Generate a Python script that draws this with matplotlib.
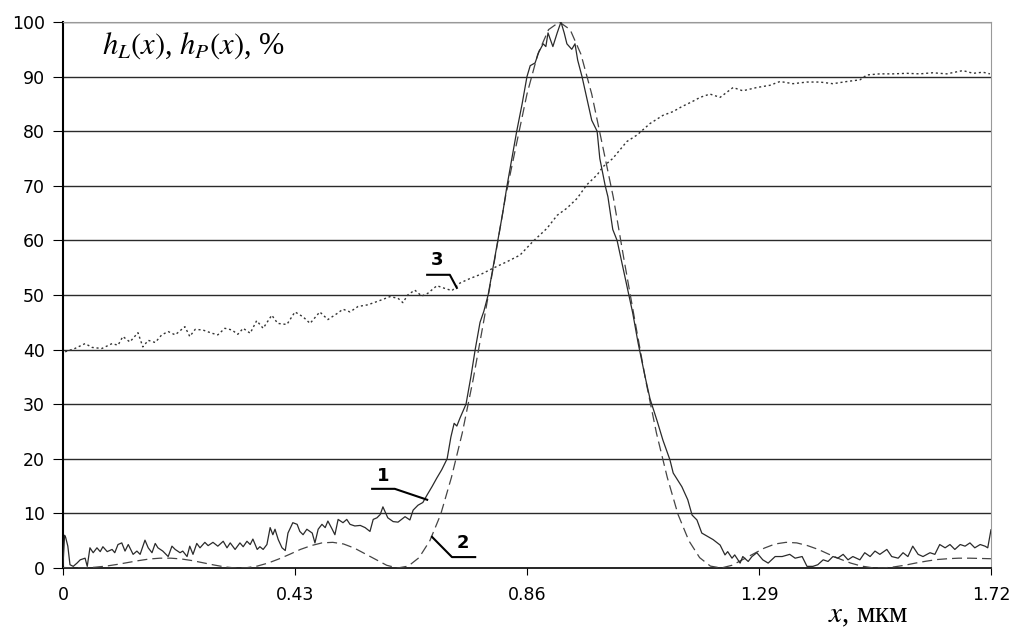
import numpy as np
import matplotlib
matplotlib.use('Agg')
import matplotlib.pyplot as plt

plt.rcParams['mathtext.fontset'] = 'stix'

# --- curve 2: smooth dashed profile, sampled every 0.02 um ---
x2 = np.round(np.arange(0, 1.7201, 0.02), 2)
y2 = [0.1, 0.0, 0.0, 0.15, 0.35, 0.65, 1.0, 1.35, 1.65, 1.8,
      1.8, 1.65, 1.35, 0.95, 0.55, 0.2, 0.0, 0.05, 0.35, 0.9,
      1.65, 2.5, 3.4, 4.1, 4.6, 4.7, 4.4, 3.65, 2.6, 1.55,
      0.5, 0.0, 0.35, 1.9, 5.0, 9.8, 16.6, 24.7, 34.4, 45.3,
      56.4, 67.9, 77.4, 86.8, 94.1, 98.6, 100, 98.6, 94.1, 86.8,
      77.4, 67.9, 56.4, 45.3, 34.4, 24.7, 16.6, 9.8, 5.0, 1.9,
      0.35, 0.0, 0.5, 1.55, 2.6, 3.65, 4.4, 4.7, 4.6, 4.1,
      3.4, 2.5, 1.65, 0.9, 0.35, 0.05, 0.0, 0.2, 0.5, 0.9,
      1.25, 1.55, 1.7, 1.8, 1.8, 1.75, 1.7]

# --- curve 1: measured (solid, noisy) ---
x1 = [0.000, 0.003, 0.005, 0.009, 0.013, 0.019, 0.026, 0.032, 0.041, 0.045,
      0.050, 0.056, 0.063, 0.069, 0.074, 0.082, 0.091, 0.096, 0.102, 0.109,
      0.115, 0.121, 0.130, 0.137, 0.143, 0.152, 0.158, 0.165, 0.171, 0.176,
      0.185, 0.195, 0.202, 0.208, 0.217, 0.222, 0.230, 0.235, 0.241, 0.248,
      0.254, 0.263, 0.269, 0.278, 0.287, 0.297, 0.304, 0.310, 0.319, 0.328,
      0.334, 0.341, 0.347, 0.352, 0.360, 0.365, 0.371, 0.378, 0.384, 0.389,
      0.393, 0.399, 0.406, 0.412, 0.417, 0.426, 0.434, 0.439, 0.445, 0.452,
      0.462, 0.467, 0.473, 0.480, 0.486, 0.491, 0.499, 0.504, 0.510, 0.519,
      0.526, 0.532, 0.541, 0.551, 0.560, 0.569, 0.575, 0.582, 0.588, 0.593,
      0.602, 0.612, 0.621, 0.634, 0.643, 0.649, 0.658, 0.667, 0.675, 0.684,
      0.693, 0.702, 0.712, 0.719, 0.725, 0.730, 0.736, 0.747, 0.756, 0.764,
      0.773, 0.780, 0.788, 0.797, 0.806, 0.815, 0.823, 0.832, 0.841, 0.851,
      0.860, 0.866, 0.875, 0.882, 0.890, 0.895, 0.899, 0.908, 0.916, 0.923,
      0.929, 0.934, 0.943, 0.949, 0.954, 0.962, 0.971, 0.980, 0.990, 0.995,
      1.005, 1.010, 1.019, 1.027, 1.038, 1.047, 1.051, 1.056, 1.066, 1.079,
      1.088, 1.101, 1.112, 1.125, 1.131, 1.147, 1.158, 1.166, 1.175, 1.184,
      1.205, 1.218, 1.227, 1.232, 1.240, 1.245, 1.255, 1.260, 1.270, 1.277,
      1.286, 1.297, 1.307, 1.320, 1.333, 1.347, 1.357, 1.370, 1.379, 1.390,
      1.399, 1.409, 1.418, 1.427, 1.436, 1.446, 1.455, 1.464, 1.477, 1.486,
      1.496, 1.505, 1.514, 1.527, 1.536, 1.548, 1.557, 1.566, 1.575, 1.585,
      1.594, 1.607, 1.616, 1.625, 1.635, 1.644, 1.653, 1.663, 1.672, 1.681,
      1.690, 1.700, 1.709, 1.714, 1.720]
y1 = [0.5, 6.0, 5.6, 4.0, 0.6, 0.3, 0.9, 1.5, 1.8, 0.3,
      3.7, 2.8, 3.7, 3.0, 3.9, 3.0, 3.4, 2.8, 4.3, 4.6,
      3.1, 4.3, 2.5, 3.1, 2.5, 5.1, 3.7, 2.8, 4.5, 3.7,
      3.1, 2.1, 4.0, 3.4, 2.8, 3.1, 2.1, 4.0, 2.5, 4.5,
      3.7, 4.7, 4.1, 4.7, 4.0, 4.9, 3.7, 4.6, 3.4, 4.6,
      3.9, 4.9, 4.3, 5.3, 3.4, 3.9, 3.4, 4.3, 7.4, 6.1,
      7.1, 5.2, 3.7, 3.2, 6.4, 8.3, 8.0, 6.7, 6.1, 7.1,
      6.4, 4.6, 7.1, 8.0, 7.4, 8.6, 7.1, 6.1, 8.9, 8.3,
      8.9, 8.0, 7.7, 7.8, 7.4, 6.7, 8.9, 9.2, 9.8, 11.2,
      9.2, 8.5, 8.4, 9.4, 8.8, 10.6, 11.5, 12.0, 13.4, 14.9,
      16.5, 18.0, 20.0, 24.0, 26.5, 26.0, 27.5, 30.0, 35.0, 40.0,
      45.0, 47.0, 50.0, 55.0, 60.0, 65.0, 70.0, 75.0, 80.0, 85.0,
      90.0, 92.0, 92.5, 94.5, 96.0, 95.5, 98.0, 95.5, 98.0, 100.0,
      98.0, 96.0, 95.0, 96.0, 93.0, 90.0, 86.0, 82.0, 80.0, 75.0,
      70.0, 68.0, 62.0, 60.0, 55.0, 51.0, 49.0, 46.7, 41.2, 35.0,
      31.0, 27.0, 23.4, 19.8, 17.4, 14.9, 12.5, 9.7, 8.8, 6.4,
      5.2, 4.2, 2.4, 3.0, 1.8, 2.4, 0.9, 2.1, 1.2, 2.1,
      2.8, 1.5, 0.9, 2.1, 2.1, 2.5, 1.8, 2.1, 0.3, 0.3,
      0.6, 1.5, 1.2, 2.1, 1.8, 2.5, 1.5, 2.1, 1.5, 2.8,
      2.1, 3.1, 2.5, 3.4, 2.1, 1.8, 2.8, 2.1, 4.0, 2.5,
      2.1, 2.8, 2.5, 4.3, 3.7, 4.3, 3.4, 4.3, 4.0, 4.6,
      3.7, 4.3, 4.0, 3.7, 7.0]

# --- curve 3: dotted, slowly rising ---
x3 = [0.004, 0.022, 0.041, 0.054, 0.072, 0.091, 0.102, 0.111, 0.124, 0.139,
      0.148, 0.158, 0.171, 0.183, 0.195, 0.208, 0.226, 0.235, 0.245, 0.259,
      0.276, 0.287, 0.300, 0.313, 0.324, 0.334, 0.347, 0.359, 0.371, 0.387,
      0.398, 0.415, 0.430, 0.445, 0.458, 0.476, 0.491, 0.508, 0.519, 0.532,
      0.547, 0.565, 0.582, 0.593, 0.606, 0.621, 0.630, 0.639, 0.652, 0.665,
      0.676, 0.693, 0.708, 0.721, 0.736, 0.754, 0.777, 0.797, 0.823, 0.847,
      0.871, 0.897, 0.916, 0.934, 0.953, 0.971, 0.990, 1.001, 1.019, 1.045,
      1.064, 1.088, 1.112, 1.131, 1.147, 1.166, 1.181, 1.199, 1.218, 1.242,
      1.260, 1.286, 1.310, 1.329, 1.353, 1.379, 1.403, 1.427, 1.453, 1.477,
      1.490, 1.514, 1.538, 1.564, 1.588, 1.612, 1.638, 1.668, 1.687, 1.705,
      1.718]
y3 = [39.6, 40.2, 41.1, 40.4, 40.2, 41.1, 40.8, 42.4, 41.4, 43.1,
      40.5, 41.7, 41.3, 42.7, 43.3, 42.7, 44.2, 42.4, 43.7, 43.6,
      43.0, 42.7, 43.9, 43.6, 42.8, 43.9, 43.0, 45.3, 43.9, 46.3,
      44.8, 44.6, 46.9, 46.0, 44.8, 46.9, 45.5, 46.6, 47.4, 46.9,
      47.9, 48.2, 48.8, 49.2, 49.7, 49.4, 48.6, 50.0, 50.9, 49.8,
      50.3, 51.7, 51.2, 50.8, 52.2, 53.0, 53.9, 54.9, 56.1, 57.3,
      59.8, 62.2, 64.6, 65.9, 67.7, 70.2, 72.0, 73.5, 75.0, 78.1,
      79.3, 81.4, 82.9, 83.6, 84.5, 85.4, 86.2, 86.8, 86.2, 88.0,
      87.4, 88.0, 88.4, 89.1, 88.7, 89.0, 89.0, 88.7, 89.1, 89.4,
      90.3, 90.5, 90.5, 90.6, 90.5, 90.7, 90.5, 91.1, 90.6, 90.8,
      90.5]

xticks = [0, 0.43, 0.86, 1.29, 1.72]
xtick_labels = ['0', '0.43', '0.86', '1.29', '1.72']
yticks = list(range(0, 101, 10))

fig = plt.figure(figsize=(10.14, 6.30), dpi=100)
ax = fig.add_axes([0.0621, 0.0984, 0.9152, 0.8667])

for v in yticks[1:]:
    ax.axhline(v, color='#2a2a2a', lw=1.0, zorder=1)

ax.plot(x2, y2, color='#444444', lw=0.9, linestyle=(0, (8, 4)), zorder=3)
ax.plot(x1, y1, color='#2a2a2a', lw=0.9, zorder=4)
ax.plot(x3, y3, color='#333333', lw=1.0, linestyle=(0, (1.5, 2)), zorder=3)

ax.set_xlim(0, 1.72)
ax.set_ylim(0, 100)
ax.set_xticks(xticks)
ax.set_xticklabels(xtick_labels)
ax.set_yticks(yticks)
ax.tick_params(axis='both', labelsize=12.5, direction='out', color='black')
ax.tick_params(axis='x', length=5, pad=8)
ax.tick_params(axis='y', length=7, pad=6)
for lab in ax.get_xticklabels() + ax.get_yticklabels():
    lab.set_family('DejaVu Sans')

ax.spines['left'].set_linewidth(1.5)
ax.spines['left'].set_color('black')
ax.spines['bottom'].set_linewidth(1.2)
ax.spines['bottom'].set_color('black')
ax.spines['right'].set_color('#999999')
ax.spines['top'].set_color('#999999')

# curve labels with leader lines
ax.plot([0.573, 0.615, 0.675], [14.5, 14.5, 12.5], color='black', lw=1.5, zorder=5)
ax.text(0.593, 16.8, '1', fontsize=13, fontweight='bold', ha='center', va='center')
ax.plot([0.684, 0.721, 0.764], [5.7, 2.0, 2.0], color='black', lw=1.5, zorder=5)
ax.text(0.741, 4.6, '2', fontsize=13, fontweight='bold', ha='center', va='center')
ax.plot([0.675, 0.717, 0.730], [53.7, 53.7, 51.3], color='black', lw=1.5, zorder=5)
ax.text(0.693, 56.4, '3', fontsize=13, fontweight='bold', ha='center', va='center')

ax.text(0.072, 95.6, r'$h_L(x)$, $h_P(x)$, %', fontsize=22,
        family='Liberation Serif', ha='left', va='center')
ax.text(0.824, -0.088, r'$x$, мкм', fontsize=21, family='Liberation Serif',
        ha='left', va='center', transform=ax.transAxes)

fig.savefig('out.png', dpi=100)
